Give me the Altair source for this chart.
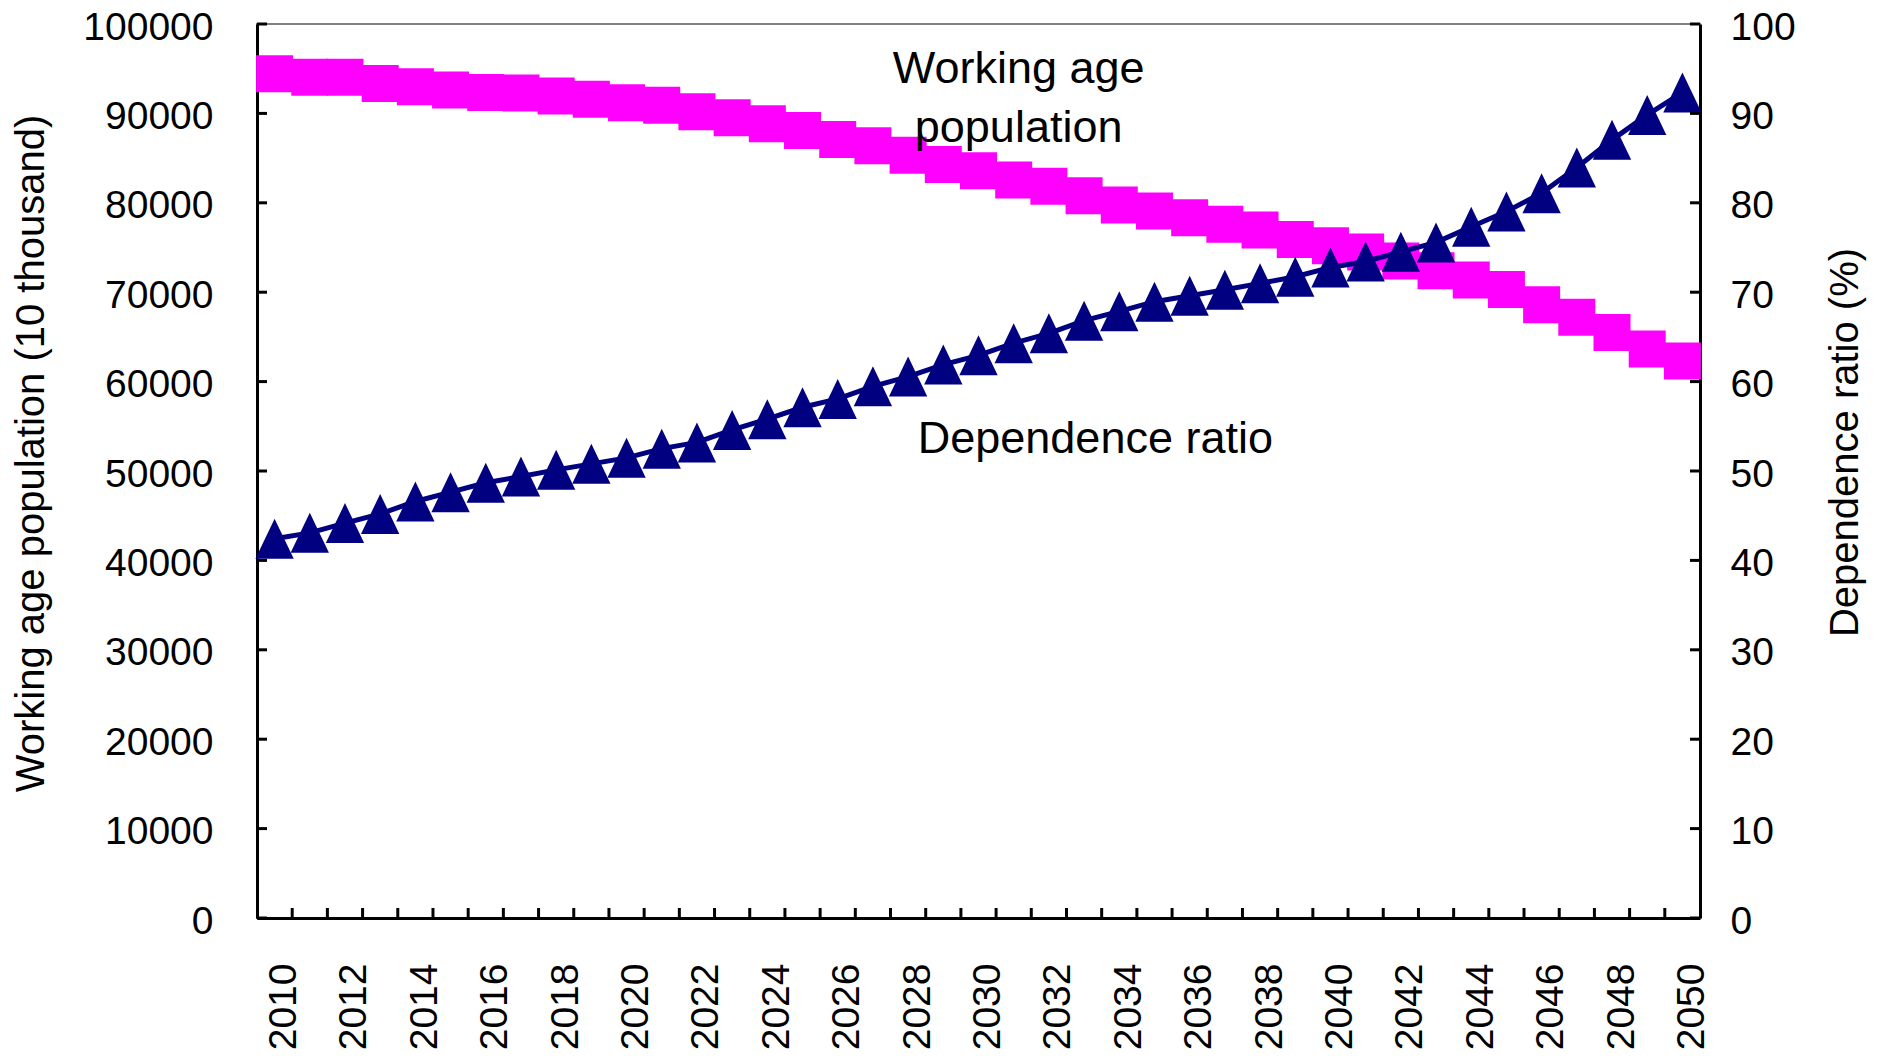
import altair as alt
import pandas as pd

# ---------------- data ----------------
years = list(range(2010, 2051))

working_age = [
    94440, 94050, 94050, 93350, 92990, 92630, 92330, 92290, 91950, 91580,
    91200, 90900, 90190, 89500, 88830, 88080, 87080, 86370, 85330, 84280,
    83580, 82550, 81860, 80780, 79760, 79070, 78320, 77600, 76960, 75900,
    75200, 74500, 73500, 72400, 71360, 70300, 68600, 67200, 65500, 63660,
    62300,
]

dependence = [
    42.42, 43.08, 44.17, 45.20, 46.59, 47.63, 48.68, 49.39, 50.13, 50.80,
    51.47, 52.50, 53.20, 54.60, 55.80, 57.13, 58.06, 59.47, 60.56, 61.90,
    62.94, 64.30, 65.40, 66.82, 67.86, 68.94, 69.60, 70.28, 70.99, 71.73,
    72.77, 73.44, 74.52, 75.57, 77.32, 79.03, 81.08, 83.94, 87.04, 89.83,
    92.33,
]

left_ticks = list(range(0, 100001, 10000))
right_ticks = list(range(0, 101, 10))
x_labels = list(range(2010, 2051, 2))
x_boundaries = [2009.5 + k for k in range(1, 41)]

ann_labels = ["Working age", "population", "Dependence ratio"]
ann_x = [2031.14, 2031.14, 2033.32]
ann_y = [93367, 86834, 52013]

left_title = "Working age population (10 thousand)"
right_title = "Dependence ratio (%)"

# ---------------- tables ----------------
df = pd.DataFrame({"year": years, "working": working_age, "dependence": dependence})
lt_df = pd.DataFrame({"v": left_ticks})
rt_df = pd.DataFrame({"v": right_ticks})
xb_df = pd.DataFrame({"b": x_boundaries})
ann_df = pd.DataFrame({"label": ann_labels, "ax": ann_x, "ay": ann_y})

W, H = 1443, 894
FONT = "Liberation Sans"
MAGENTA = "#FF00FF"
NAVY = "#000080"

x_scale = alt.Scale(domain=[2009.5, 2050.5], nice=False, zero=False)
yl_scale = alt.Scale(domain=[0, 100000], nice=False, zero=False)
yr_scale = alt.Scale(domain=[0, 100], nice=False, zero=False)

x_axis = alt.Axis(
    orient="bottom", values=x_labels, format="d", labelAngle=270,
    labelFontSize=39, labelPadding=45, labelOffset=9, ticks=False,
    grid=False, domainColor="black", domainWidth=3, title=None,
    labelFlush=False, labelOverlap=False,
)
yl_axis = alt.Axis(
    orient="left", values=left_ticks, format="d", labelFontSize=39,
    labelPadding=44, labelOffset=3, ticks=False, grid=False,
    domainColor="black", domainWidth=3, title=left_title,
    titleFontSize=40, titlePadding=31, titleY=429, labelFlush=False,
    labelOverlap=False,
)
yr_axis = alt.Axis(
    orient="right", values=right_ticks, format="d", labelFontSize=39,
    labelPadding=30, labelOffset=3, ticks=False, grid=False,
    domainColor="black", domainWidth=3, title=right_title,
    titleFontSize=40, titlePadding=30, titleAngle=270,
    titleBaseline="top", titleY=418, labelFlush=False, labelOverlap=False,
)


def X(field):
    return alt.X(field, scale=x_scale, axis=x_axis)


def YL(field):
    return alt.Y(field, scale=yl_scale, axis=yl_axis)


def YR(field):
    return alt.Y(field, scale=yr_scale, axis=yr_axis)


# ---------------- left (working age) layer ----------------
mag_line = alt.Chart(df).mark_line(color=MAGENTA, strokeWidth=5).encode(
    x=X("year:Q"), y=YL("working:Q"),
)
mag_pts = alt.Chart(df).mark_point(
    shape="square", size=1369, filled=True, color=MAGENTA, opacity=1
).encode(x=X("year:Q"), y=YL("working:Q"))
l_ticks = alt.Chart(lt_df).mark_rule(color="black", strokeWidth=3).encode(
    y=YL("v:Q"), x=alt.value(0), x2=alt.value(10),
)
x_ticks = alt.Chart(xb_df).mark_rule(color="black", strokeWidth=3).encode(
    x=X("b:Q"), y=alt.value(H - 10), y2=alt.value(H),
)
ann = alt.Chart(ann_df).mark_text(
    font=FONT, fontSize=45, color="black", align="center", baseline="alphabetic"
).encode(x=X("ax:Q"), y=YL("ay:Q"), text="label:N")
left = alt.layer(mag_line, mag_pts, l_ticks, x_ticks, ann)

# ---------------- right (dependence ratio) layer ----------------
nav_line = alt.Chart(df).mark_line(color=NAVY, strokeWidth=5).encode(
    x=X("year:Q"), y=YR("dependence:Q"),
)
nav_pts = alt.Chart(df).mark_point(
    shape="M0,-1L-0.958,1L0.958,1Z", size=1600, filled=True, color=NAVY, opacity=1
).encode(x=X("year:Q"), y=YR("dependence:Q"))
r_ticks = alt.Chart(rt_df).mark_rule(color="black", strokeWidth=3).encode(
    y=YR("v:Q"), x=alt.value(W - 10), x2=alt.value(W),
)
right = alt.layer(nav_line, nav_pts, r_ticks)

chart = (
    alt.layer(left, right)
    .resolve_scale(y="independent")
    .properties(
        width=W,
        height=H,
        autosize=alt.AutoSizeParams(type="none"),
        padding={"left": 249, "top": 16, "right": 168, "bottom": 134},
        background="white",
    )
    .configure_view(stroke="#808080", strokeWidth=2)
    .configure_axis(
        labelFont=FONT, titleFont=FONT, labelColor="black",
        titleColor="black", titleFontWeight="normal",
    )
)

chart.save("out.html", embed_options={"renderer": "svg", "actions": False})
